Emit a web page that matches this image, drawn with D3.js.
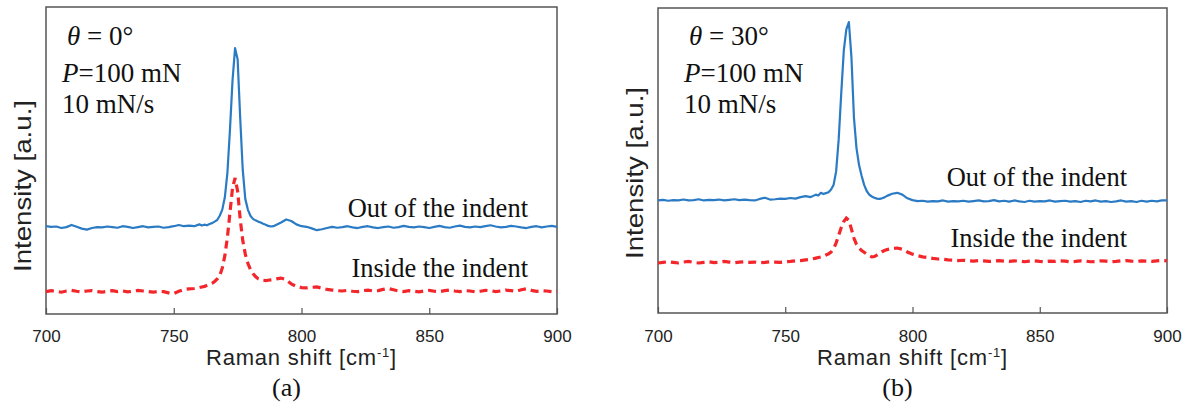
<!DOCTYPE html>
<html>
<head>
<meta charset="utf-8">
<script src="https://cdn.jsdelivr.net/npm/d3@7/dist/d3.min.js"></script>
<style>
  body { margin: 0; background: #fff; }
  svg { display: block; }
</style>
</head>
<body>
<div id="container"></div>
<script>
// raman shift grid (cm-1), finer around the peak
const shift = [700,702,704,706,708,710,712,714,716,718,720,722,724,726,728,730,732,734,736,738,740,742,744,746,748,750,752,754,756,758,760,
  761,762,763,764,765,766,767,768,769,770,771,772,773,774,775,776,777,778,779,780,781,782,783,784,785,786,787,788,789,
  790,792,794,796,798,800,802,804,806,808,810,812,814,816,818,820,822,824,826,828,830,832,834,836,838,840,842,844,846,848,
  850,852,854,856,858,860,862,864,866,868,870,872,874,876,878,880,882,884,886,888,890,892,894,896,898,900];

const xTicks = [700, 750, 800, 850, 900];

// (a) theta = 0 deg
const outA = [28.6,28.4,28.5,28.0,28.3,29.0,28.4,27.8,27.5,28.0,28.3,28.2,28.5,28.3,28.1,28.6,28.4,28.0,28.3,28.6,28.2,28.4,28.5,28.1,28.3,28.6,29.0,28.6,28.8,28.6,29.2,
  28.8,29.1,28.9,29.3,29.6,30.1,30.6,32.0,34.0,38.0,46.0,60.0,76.0,86.6,83.0,64.0,47.0,37.5,34.0,32.0,31.0,30.5,30.1,29.8,29.4,29.1,28.7,28.5,28.6,
  29.0,29.8,30.8,30.3,29.2,28.6,28.4,27.9,27.3,27.6,28.0,28.4,28.1,28.3,28.6,28.2,28.0,28.4,28.6,28.2,28.0,28.3,28.5,28.1,28.3,28.7,28.4,28.2,28.5,28.3,
  28.0,28.4,28.7,28.3,28.1,28.5,28.8,28.4,28.2,28.5,28.3,28.6,28.9,28.5,28.2,28.4,28.7,28.5,28.2,28.0,28.4,28.6,28.2,28.5,28.7,28.4];

const inA = [7.3,7.6,7.4,7.1,7.5,7.7,7.4,7.2,7.5,7.6,7.3,7.1,7.4,7.6,7.3,7.5,7.2,7.4,7.7,7.5,7.3,7.1,7.4,7.3,6.9,6.7,7.4,8.0,8.2,8.3,8.6,
  8.8,9.0,9.3,9.6,10.0,10.6,11.4,12.5,15.0,19.0,25.0,33.0,41.0,44.3,40.0,31.0,24.0,19.5,16.5,14.5,13.2,12.2,11.5,11.2,11.0,10.9,11.0,11.1,11.2,
  11.4,11.7,11.2,9.8,9.0,8.6,8.5,8.7,8.8,8.4,8.0,7.8,7.6,7.5,7.7,7.4,7.3,7.6,7.8,7.5,7.6,8.0,8.3,7.9,7.5,7.3,7.6,7.4,7.2,7.5,
  7.7,7.4,7.3,7.6,7.8,7.5,7.3,7.6,7.5,7.2,7.4,7.7,7.6,7.3,7.5,7.8,7.6,7.4,7.9,8.2,7.7,7.4,7.6,7.5,7.3,7.4];

// (b) theta = 30 deg
const outB = [36.9,37.1,36.8,37.0,36.9,37.2,36.9,37.0,37.3,36.9,37.1,37.0,37.2,36.9,37.1,37.3,37.0,37.2,37.0,36.9,37.4,37.8,37.2,37.3,37.5,37.4,37.7,37.5,38.0,38.3,38.0,
  38.4,38.8,38.5,39.4,39.0,39.3,39.6,40.5,42.0,46.5,57.0,72.0,86.0,93.0,95.4,84.0,64.0,54.0,48.5,45.0,42.0,40.0,38.8,38.2,37.8,37.5,37.4,37.6,37.9,
  38.4,39.1,39.4,38.8,37.6,37.0,36.7,36.8,36.5,36.7,36.6,36.9,36.5,36.7,36.6,36.8,36.5,36.7,36.9,36.6,36.7,37.0,36.6,36.8,36.5,36.9,36.6,36.4,36.8,36.5,
  36.7,36.6,36.9,36.5,36.7,36.8,36.5,36.7,36.4,36.8,36.6,36.9,36.5,36.7,36.4,36.6,36.9,36.5,36.7,36.4,36.8,36.5,36.8,36.6,36.9,36.9];

const inB = [16.4,16.6,16.8,16.6,16.4,16.7,16.9,16.6,16.4,16.6,16.8,16.5,16.6,16.9,16.7,16.5,16.7,16.8,16.6,16.7,16.5,16.6,16.8,16.7,16.6,16.8,16.9,17.1,17.2,17.4,17.6,
  17.8,18.0,18.2,18.4,18.6,19.0,19.4,20.0,21.0,23.0,25.5,28.0,30.0,31.1,30.4,27.5,24.5,22.5,21.3,20.5,19.9,19.3,18.8,18.4,18.5,19.0,19.6,20.1,20.5,
  20.8,21.1,21.3,20.9,20.0,19.3,18.8,18.4,18.2,17.9,17.7,17.6,17.4,17.3,17.2,17.3,17.1,17.0,17.2,17.1,16.9,17.0,17.2,17.0,16.9,17.1,17.0,16.8,17.0,17.1,
  16.9,16.8,17.0,16.9,17.1,17.0,16.8,16.9,17.1,17.0,16.8,16.9,17.1,17.0,16.8,16.9,17.1,17.2,17.0,16.9,17.1,17.0,16.9,17.1,17.2,17.1];

const width = 1191;
const height = 408;
const serif = '"Liberation Serif", "Times New Roman", serif';
const sans = '"Liberation Sans", Arial, sans-serif';

const svg = d3.select('#container')
              .append('svg')
              .attr('width', width)
              .attr('height', height);

const panels = [
  { left: 46, right: 557, top: 7, bottom: 314, outV: outA, inV: inA,
    theta: '0°', tag: '(a)', yLab: [31, 186], outY: 217, inY: 277, labX: 528, noteX: 62 },
  { left: 658, right: 1167, top: 8, bottom: 313, outV: outB, inV: inB,
    theta: '30°', tag: '(b)', yLab: [643, 173], outY: 186, inY: 247, labX: 1127, noteX: 684 }
];

panels.forEach(p => {
  const g = svg.append('g');

  const xScale = d3.scaleLinear().domain([700, 900]).range([p.left, p.right]);
  const yScale = d3.scaleLinear().domain([0, 100]).range([p.bottom, p.top]);

  // x axis with inward ticks
  const axis = g.append('g')
    .attr('transform', `translate(0,314)`)
    .call(d3.axisBottom(xScale).tickValues(xTicks).tickSizeInner(-6).tickSizeOuter(0).tickPadding(15.5));
  axis.select('.domain').remove();
  axis.selectAll('line').attr('stroke', '#555').attr('stroke-width', 1.2)
    .attr('transform', `translate(0,${p.bottom - 314})`);
  axis.selectAll('text').attr('font-family', sans).attr('font-size', 17).attr('fill', '#222');

  // frame
  g.append('rect')
    .attr('x', p.left).attr('y', p.top)
    .attr('width', p.right - p.left).attr('height', p.bottom - p.top)
    .attr('fill', 'none').attr('stroke', '#555').attr('stroke-width', 1.5);

  const line = d3.line()
    .x((d, i) => xScale(shift[i]))
    .y(d => yScale(d));

  g.append('path')
    .datum(p.inV)
    .attr('d', line)
    .attr('fill', 'none')
    .attr('stroke', '#f3262b')
    .attr('stroke-width', 3.2)
    .attr('stroke-dasharray', '8,5');

  g.append('path')
    .datum(p.outV)
    .attr('d', line)
    .attr('fill', 'none')
    .attr('stroke', '#2b7bc4')
    .attr('stroke-width', 2.2)
    .attr('stroke-linejoin', 'round');

  // axis titles
  const xl = g.append('text')
    .attr('x', (p.left + p.right) / 2).attr('y', 365)
    .attr('text-anchor', 'middle')
    .attr('font-family', sans).attr('font-size', 22).attr('fill', '#222')
    .attr('letter-spacing', 0.8);
  xl.append('tspan').text('Raman shift [cm');
  xl.append('tspan').attr('font-size', 13).attr('dy', -8).text('-1');
  xl.append('tspan').attr('dy', 8).text(']');

  g.append('text')
    .attr('transform', `translate(${p.yLab[0]},${p.yLab[1]}) rotate(-90)`)
    .attr('text-anchor', 'middle')
    .attr('font-family', sans).attr('font-size', 24).attr('fill', '#222')
    .attr('textLength', 172).attr('lengthAdjust', 'spacingAndGlyphs')
    .text('Intensity [a.u.]');

  g.append('text')
    .attr('x', (p.left + p.right) / 2 - 15).attr('y', 396)
    .attr('text-anchor', 'middle')
    .attr('font-family', serif).attr('font-size', 26).attr('fill', '#111')
    .text(p.tag);

  // notes
  const t1 = g.append('text')
    .attr('x', p.noteX + 5).attr('y', 45)
    .attr('font-family', serif).attr('font-size', 27).attr('fill', '#111');
  t1.append('tspan').attr('font-style', 'italic').text('θ');
  t1.append('tspan').text(' = ' + p.theta);

  const t2 = g.append('text')
    .attr('x', p.noteX).attr('y', 82)
    .attr('font-family', serif).attr('font-size', 27).attr('fill', '#111');
  t2.append('tspan').attr('font-style', 'italic').text('P');
  t2.append('tspan').text('=100 mN');

  g.append('text')
    .attr('x', p.noteX).attr('y', 113)
    .attr('font-family', serif).attr('font-size', 27).attr('fill', '#111')
    .text('10 mN/s');

  // series labels
  g.append('text')
    .attr('x', p.labX).attr('y', p.outY)
    .attr('text-anchor', 'end')
    .attr('font-family', serif).attr('font-size', 26.5).attr('fill', '#111')
    .text('Out of the indent');

  g.append('text')
    .attr('x', p.labX).attr('y', p.inY)
    .attr('text-anchor', 'end')
    .attr('font-family', serif).attr('font-size', 26.5).attr('fill', '#111')
    .text('Inside the indent');
});
</script>
</body>
</html>
